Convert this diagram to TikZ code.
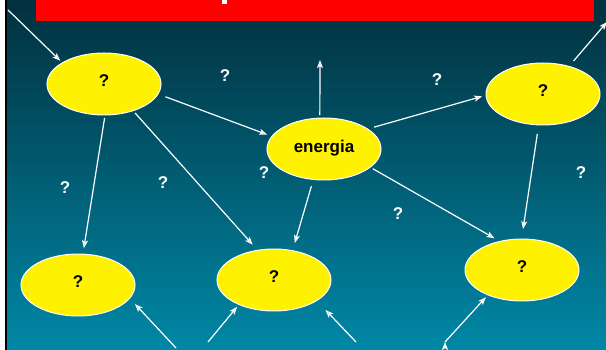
\documentclass[tikz,border=0pt]{standalone}
\usepackage{fontspec}
\setmainfont{Liberation Sans}
\usetikzlibrary{arrows.meta, shapes.geometric}
\definecolor{deepteal}{HTML}{02303E}
\definecolor{lightteal}{HTML}{0088A6}

\begin{document}
\begin{tikzpicture}[x=1pt, y=-1pt,
                >={Stealth[inset=2pt,length=8pt,width=6pt]},
                bubble/.style={ellipse, draw=white, line width=1pt, fill=yellow,
                    minimum width=114pt, minimum height=62pt, inner sep=0pt,
                    outer sep=3pt, text depth=6pt,
                    font=\bfseries\fontsize{17}{17}\selectfont},
                quest/.style={text=white, inner sep=0pt,
                    font=\bfseries\fontsize{17}{17}\selectfont},
                link/.style={->, draw=white, line width=1.2pt}
                ]

                % Background
                \useasboundingbox (0,0) rectangle (606,350);
                \shade[top color=deepteal, bottom color=lightteal] (7,0) rectangle (606,350);
                \fill[white] (0,0) rectangle (5,350);
                \fill[black] (5,0) rectangle (7,350);
                \fill[red] (36,0) rectangle (594,21);
                \fill[white] (222,0) rectangle (227,4);

                % Nodes
                \node[bubble] (top_left) at (104,84) {?};
                \node[bubble] (top_right) at (543,94) {?};
                \node[bubble] (energy) at (324,149) {energia};
                \node[bubble] (bot_left) at (78,285) {?};
                \node[bubble] (bot_mid) at (274,280) {?};
                \node[bubble] (bot_right) at (522,270) {?};

                % Free ends
                \coordinate (in_tl) at (8,10);
                \coordinate (out_tr) at (607,22);
                \coordinate (out_up) at (320,60);
                \coordinate (in_bl) at (176,348);
                \coordinate (in_bm_a) at (208,342);
                \coordinate (in_bm_b) at (356,342);
                \coordinate (in_br) at (445,342);

                % Labels
                \node[quest] (q1) at (225,76) {?};
                \node[quest] (q2) at (437,80) {?};
                \node[quest] (q3) at (65,188) {?};
                \node[quest] (q4) at (163,183) {?};
                \node[quest] (q5) at (264,173) {?};
                \node[quest] (q6) at (581,173) {?};
                \node[quest] (q7) at (398,214) {?};

                % Paths
                \path[link]
                (in_tl) edge (top_left.152)
                (top_right.47) edge [shorten <=4pt] (out_tr)
                (top_left.-11) edge [shorten <=5pt, shorten >=2pt] (energy.166)
                (top_left.-89) edge [shorten >=3pt] (bot_left.81)
                (top_left.-43) edge [shorten >=4pt] (bot_mid.120)
                (energy.97) edge (out_up)
                (energy.24) edge [shorten <=3pt, shorten >=1pt] (top_right.-178)
                (energy.-109) edge [shorten <=4pt, shorten >=5pt] (bot_mid.59)
                (energy.-22) edge [shorten >=2pt] (bot_right.130)
                (top_right.-98) edge [shorten <=6pt, shorten >=7pt] (bot_right.90)
                (in_bl) edge [shorten >=5pt] (bot_left.-16)
                (in_bm_a) edge (bot_mid.-144)
                (in_bm_b) edge [shorten >=10pt] (bot_mid.-27)
                (in_br) edge (bot_right.-143);
\end{tikzpicture}
\end{document}
